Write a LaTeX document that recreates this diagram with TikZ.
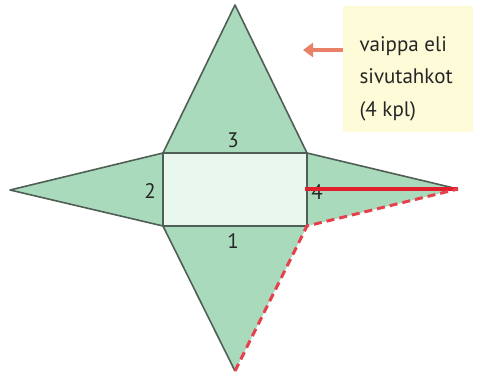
\documentclass[tikz,border=0pt]{standalone}
\usepackage{fontspec}
\setmainfont{PT Sans}
\usetikzlibrary{arrows.meta}
\definecolor{tahko}{RGB}{170,218,188}
\definecolor{pohja}{RGB}{233,247,238}
\definecolor{reuna}{RGB}{80,95,85}
\definecolor{punainen}{RGB}{226,30,45}
\definecolor{nuoli}{RGB}{232,128,106}
\definecolor{lappu}{RGB}{253,251,216}
\begin{document}
\begin{tikzpicture}[
  x=1pt, y=-1pt,
  sivu/.style={fill=tahko, draw=reuna, line width=1.6pt, line join=round},
  numero/.style={font=\fontsize{21}{21}\selectfont, text=black!85},
  korkeus/.style={draw=punainen, line width=3.6pt},
  kylki/.style={draw=punainen!85!white, line width=3pt, dash pattern=on 8pt off 5pt}
]
  \useasboundingbox (0,0) rectangle (478,378);

  % Pohjan kulmat
  \coordinate (A) at (163,153);
  \coordinate (B) at (307,153);
  \coordinate (C) at (307,226);
  \coordinate (D) at (163,226);

  % Sivutahkojen kärjet
  \coordinate (yla) at (235,5);
  \coordinate (ala) at (235,371);
  \coordinate (vasen) at (10,190);
  \coordinate (oikea) at (458,189);
  \coordinate (keski) at (305,189);

  % Sivutahkot
  \draw[sivu] (A) -- (yla) -- (B);
  \draw[sivu] (A) -- (vasen) -- (D);
  \fill[tahko] (B) -- (oikea) -- (C) -- cycle;
  \draw[sivu, fill=none] (B) -- (oikea);
  \fill[tahko] (D) -- (ala) -- (C) -- cycle;
  \draw[sivu, fill=none] (D) -- (ala);

  % Pohja
  \draw[sivu, fill=pohja] (A) rectangle (C);

  % Numerot
  \node[numero] (n3) at (233,140) {3};
  \node[numero] (n2) at (150,191) {2};
  \node[numero] (n4) at (317,192) {4};
  \node[numero] (n1) at (233,241) {1};

  % Korkeus ja sivusärmät
  \draw[korkeus] (keski) -- (oikea);
  \draw[kylki] (ala) -- (C) -- (oikea);

  % Selite
  \node[fill=lappu, minimum width=130pt, minimum height=126pt, anchor=north west] (selite) at (343,6) {};
  \node[anchor=north west, align=left, font=\fontsize{21}{32.5}\selectfont, text=black!85] (teksti) at (356,33) {vaippa eli\\sivutahkot\\(4 kpl)};
  \coordinate (nuolenpaa) at (303,50);
  \draw[nuoli, line width=3.5pt, -{Triangle[length=10pt, width=14pt]}] (selite.west |- nuolenpaa) -- (nuolenpaa);

\end{tikzpicture}
\end{document}
